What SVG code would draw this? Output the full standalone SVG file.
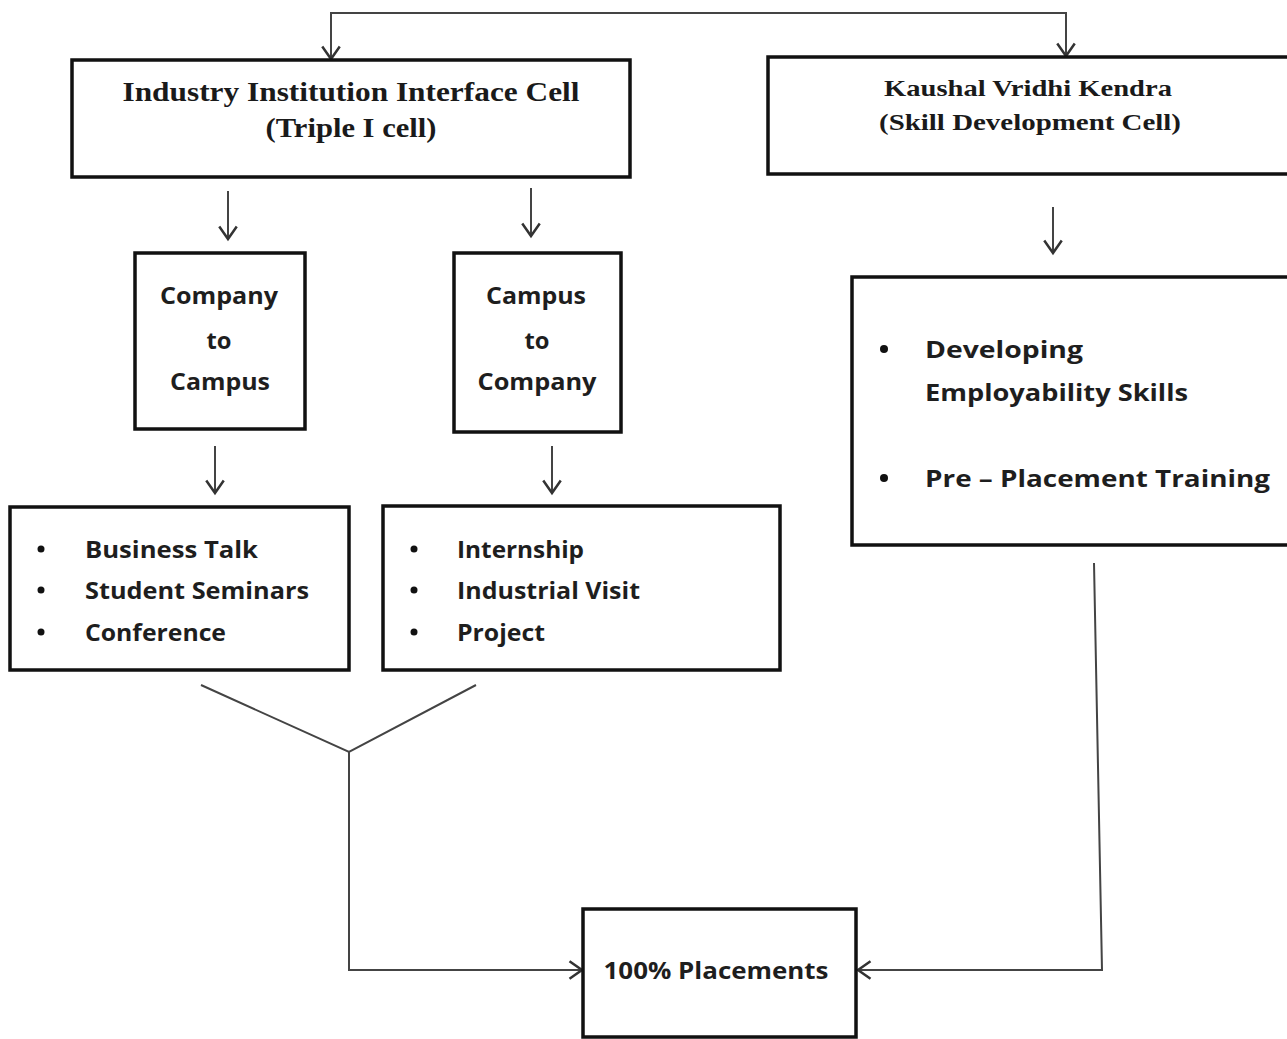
<svg xmlns="http://www.w3.org/2000/svg" width="1287" height="1039" viewBox="0 0 1287 1039">
<style>
.box{fill:#fff;stroke:#111;stroke-width:3.5}
.ser{font-family:"Liberation Serif","Times New Roman",serif;font-weight:bold;fill:#1a1a1a}
.san{font-family:"Open Sans","Liberation Sans",sans-serif;font-weight:bold;fill:#1e1e1e;font-size:24px}
.c{stroke:#444;stroke-width:2;fill:none}
.bul{fill:#111}
</style>
<defs>
<marker id="ah" markerUnits="userSpaceOnUse" markerWidth="20" markerHeight="20" refX="12" refY="8" orient="auto-start-reverse" viewBox="0 0 16 16">
<path d="M2,1 L12,8 L2,15" fill="none" stroke="#333" stroke-width="2"/>
</marker>
</defs>
<rect width="1287" height="1039" fill="#fff"/>
<g id="connectors">
<path class="c" d="M331,59 V13 H1066 V56" stroke="#777" marker-start="url(#ah)" marker-end="url(#ah)"/>
<line class="c" x1="228" y1="191" x2="228" y2="239" marker-end="url(#ah)"/>
<line class="c" x1="531" y1="188" x2="531" y2="236" marker-end="url(#ah)"/>
<line class="c" x1="1053" y1="207" x2="1053" y2="253" marker-end="url(#ah)"/>
<line class="c" x1="215" y1="446" x2="215" y2="493" marker-end="url(#ah)"/>
<line class="c" x1="552" y1="446" x2="552" y2="493" marker-end="url(#ah)"/>
<path class="c" d="M201,685 L349,752 L476,685"/>
<path class="c" d="M349,752 V970 H582" marker-end="url(#ah)"/>
<path class="c" d="M1094,563 L1102,970 H858" marker-end="url(#ah)"/>
</g>
<g id="iiic">
<rect class="box" x="72" y="60" width="558" height="117"/>
<text class="ser" x="351" y="101" font-size="27" text-anchor="middle" textLength="457" lengthAdjust="spacingAndGlyphs">Industry Institution Interface Cell</text>
<text class="ser" x="351" y="137" font-size="27" text-anchor="middle" textLength="171" lengthAdjust="spacingAndGlyphs">(Triple I cell)</text>
</g>
<g id="kvk">
<rect class="box" x="768" y="57" width="540" height="117"/>
<text class="ser" x="1028" y="96" font-size="24" text-anchor="middle" textLength="288" lengthAdjust="spacingAndGlyphs">Kaushal Vridhi Kendra</text>
<text class="ser" x="1030" y="130" font-size="24" text-anchor="middle" textLength="302" lengthAdjust="spacingAndGlyphs">(Skill Development Cell)</text>
</g>
<g id="c2c">
<rect class="box" x="135" y="253" width="170" height="176"/>
<text class="san" x="219" y="304" text-anchor="middle" textLength="118" lengthAdjust="spacingAndGlyphs">Company</text>
<text class="san" x="219" y="349" text-anchor="middle" textLength="25" lengthAdjust="spacingAndGlyphs">to</text>
<text class="san" x="220" y="390" text-anchor="middle" textLength="100" lengthAdjust="spacingAndGlyphs">Campus</text>
</g>
<g id="campus2company">
<rect class="box" x="454" y="253" width="167" height="179"/>
<text class="san" x="536" y="304" text-anchor="middle" textLength="100" lengthAdjust="spacingAndGlyphs">Campus</text>
<text class="san" x="537" y="349" text-anchor="middle" textLength="25" lengthAdjust="spacingAndGlyphs">to</text>
<text class="san" x="537" y="390" text-anchor="middle" textLength="119" lengthAdjust="spacingAndGlyphs">Company</text>
</g>
<g id="list1">
<rect class="box" x="10" y="507" width="339" height="163"/>
<circle class="bul" cx="41" cy="549" r="3.5"/>
<circle class="bul" cx="41" cy="590" r="3.5"/>
<circle class="bul" cx="41" cy="632" r="3.5"/>
<text class="san" x="85" y="558" textLength="173" lengthAdjust="spacingAndGlyphs">Business Talk</text>
<text class="san" x="85" y="599" textLength="224" lengthAdjust="spacingAndGlyphs">Student Seminars</text>
<text class="san" x="85" y="641" textLength="141" lengthAdjust="spacingAndGlyphs">Conference</text>
</g>
<g id="list2">
<rect class="box" x="383" y="506" width="397" height="164"/>
<circle class="bul" cx="414" cy="549" r="3.5"/>
<circle class="bul" cx="414" cy="590" r="3.5"/>
<circle class="bul" cx="414" cy="632" r="3.5"/>
<text class="san" x="457" y="558" textLength="127" lengthAdjust="spacingAndGlyphs">Internship</text>
<text class="san" x="457" y="599" textLength="183" lengthAdjust="spacingAndGlyphs">Industrial Visit</text>
<text class="san" x="457" y="641" textLength="88" lengthAdjust="spacingAndGlyphs">Project</text>
</g>
<g id="skills">
<rect class="box" x="852" y="277" width="460" height="268"/>
<circle class="bul" cx="884" cy="349" r="4"/>
<circle class="bul" cx="884" cy="478" r="4"/>
<text class="san" x="925" y="358" font-size="26" textLength="158" lengthAdjust="spacingAndGlyphs">Developing</text>
<text class="san" x="925" y="401" font-size="26" textLength="263" lengthAdjust="spacingAndGlyphs">Employability Skills</text>
<text class="san" x="925" y="487" font-size="26" textLength="345" lengthAdjust="spacingAndGlyphs">Pre – Placement Training</text>
</g>
<g id="placements">
<rect class="box" x="583" y="909" width="273" height="128"/>
<text class="san" x="716" y="979" font-size="25" text-anchor="middle" textLength="225" lengthAdjust="spacingAndGlyphs">100% Placements</text>
</g>
</svg>
